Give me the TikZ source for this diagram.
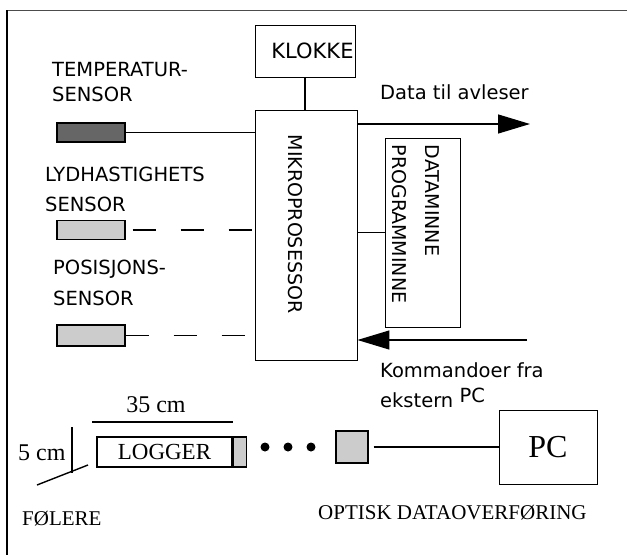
\documentclass[tikz,border=0pt]{standalone}
\usepackage{fontspec}
\setmainfont{Liberation Serif}
\setsansfont{DejaVu Sans}
\usetikzlibrary{arrows.meta, positioning}

\begin{document}
\begin{tikzpicture}[
    x=1pt, y=-1pt,
    every node/.style={inner sep=0pt},
    box/.style={rectangle, draw, line width=0.9pt},
    sensor/.style={rectangle, draw, line width=1.3pt, minimum width=68pt, minimum height=19pt},
    txt/.style={font=\sffamily\fontsize{19.5}{25}\selectfont, align=left},
    rmtxt/.style={font=\fontsize{21}{24}\selectfont},
    link/.style={line width=1.1pt},
    dashlink/.style={line width=1.1pt, dash pattern=on 23pt off 25pt},
    bigarrow/.style={line width=1.3pt, -{Triangle[length=32pt, width=19pt]}},
]
\useasboundingbox (0,0) rectangle (627,555);

% Frame (top and left edge only)
\coordinate (ftl) at (7,10);
\coordinate (ftr) at (627,10);
\coordinate (fbl) at (7,555);
\draw[line width=0.8pt, black!70] (ftl) -- (ftr);
\draw[line width=1.6pt] (ftl) -- (fbl);

% Row 1: processor, clock and memory
\node[box, minimum width=102pt, minimum height=250pt] (micro) at (306,235) {};
\node[txt, rotate=-90, font=\sffamily\fontsize{19}{25}\selectfont] (microlbl) at (295,224) {MIKROPROSESSOR};
\node[box, minimum width=100pt, minimum height=52pt, text width=97pt, align=right,
      font=\sffamily\fontsize{21}{26}\selectfont] (klokke) at (305,51) {KLOKKE};
\node[box, minimum width=75pt, minimum height=189pt] (mem) at (422.5,232.5) {};
\node[txt, rotate=-90, font=\sffamily\fontsize{19}{32.5}\selectfont] (memlbl) at (416,224) {DATAMINNE\\PROGRAMMINNE};

% Row 1: sensors on the left
\node[sensor, fill=black!60] (tsens) at (91,132.5) {};
\node[sensor, fill=black!20] (lsens) at (91,230) {};
\node[sensor, fill=black!20, minimum height=21pt] (psens) at (91,335.5) {};
\node[txt, anchor=north west] (tlbl) at (52,62) {TEMPERATUR-\\SENSOR};
\node[txt, anchor=north west, font=\sffamily\fontsize{19.5}{30}\selectfont] (llbl) at (45,167) {LYDHASTIGHETS\\SENSOR};
\node[txt, anchor=north west, font=\sffamily\fontsize{19.5}{31}\selectfont] (plbl) at (53,260) {POSISJONS-\\SENSOR};

% Row 1: data in and out
\coordinate (dataend) at (530,124);
\coordinate (cmdstart) at (527,340);
\node[txt, anchor=base west] (datalbl) at (380,99) {Data til avleser};
\node[txt, anchor=north west, font=\sffamily\fontsize{19.5}{30}\selectfont] (cmdlbl) at (380,362) {Kommandoer fra\\ekstern \raisebox{5pt}{PC}};

% Row 2: logger, optical link and PC
\node[box, line width=1.3pt, minimum width=135pt, minimum height=30pt,
      font=\fontsize{23}{26}\selectfont] (logger) at (164.5,452) {LOGGER};
\node[box, line width=1.3pt, fill=black!20, minimum width=13pt, minimum height=30pt,
      anchor=west] (loggertip) at (logger.east) {};
\foreach \i/\x in {1/265, 2/288, 3/311}
    \node[circle, fill, minimum size=9pt] (dot\i) at (\x,447) {};
\node[box, line width=1.3pt, fill=black!20, minimum size=32pt] (optsq) at (352,447) {};
\node[box, minimum width=98pt, minimum height=74pt, font=\fontsize{32}{36}\selectfont] (pc) at (548,447) {PC};

% Row 2: measures and captions
\coordinate (lenl) at (92,422);
\coordinate (lenr) at (233,422);
\coordinate (diat) at (72,427);
\coordinate (diab) at (72,473);
\coordinate (probea) at (37,485);
\coordinate (probeb) at (88,465);
\node[rmtxt, anchor=base, font=\fontsize{24}{26}\selectfont] (lenlbl) at (156,412) {35 cm};
\node[rmtxt, anchor=base west, font=\fontsize{24}{26}\selectfont] (dialbl) at (18,460) {5 cm};
\node[rmtxt, anchor=base west] (folere) at (22,525) {FØLERE};
\node[rmtxt, anchor=base west] (optlbl) at (318,519) {OPTISK DATAOVERFØRING};

% Arrows
\draw[link] (klokke.south) -- (klokke.south |- micro.north);
\draw[link] (tsens.east) -- (tsens.east -| micro.west);
\draw[dashlink, dash phase=41pt] (lsens.east) -- (lsens.east -| micro.west);
\draw[dashlink] (psens.east) -- (psens.east -| micro.west);
\draw[link] (mem.west -| micro.east) -- (mem.west);
\draw[bigarrow] (micro.east |- dataend) -- (dataend);
\draw[bigarrow] (cmdstart) -- (micro.east |- cmdstart);
\draw[link, shorten <=5pt] (optsq.east) -- (pc.west);
\draw[link] (lenl) -- (lenr);
\draw[link] (diat) -- (diab);
\draw[link, line width=1.4pt] (probea) -- (probeb);

\end{tikzpicture}
\end{document}
